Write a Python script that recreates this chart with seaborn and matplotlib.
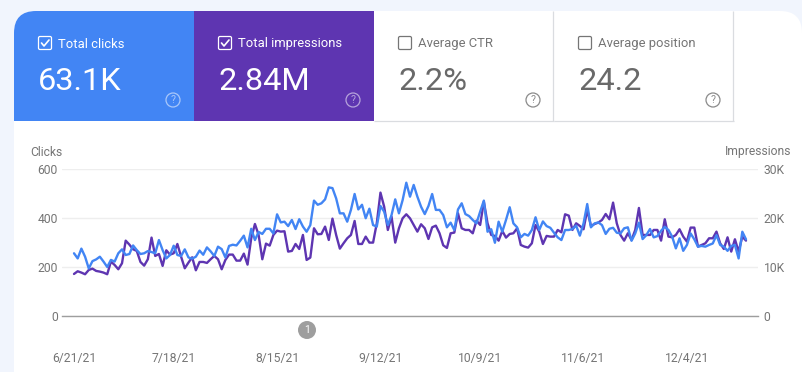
import matplotlib
matplotlib.use("Agg")
import matplotlib.pyplot as plt
from matplotlib.patches import FancyBboxPatch, Rectangle, Circle
import pandas as pd
import seaborn as sns

start_date = "2021-06-21"
clicks = [256,235,275,242,194,224,231,242,222,200,229,222,256,272,249,253,288,269,253,256,265,261,256,310,269,235,249,287,249,245,272,239,234,242,267,250,280,264,245,283,273,239,286,291,288,307,328,280,356,310,343,335,356,356,337,415,382,385,367,392,355,395,
          365,344,371,471,454,460,476,525,522,480,419,419,385,433,498,435,454,399,438,371,365,449,426,371,412,476,419,473,544,487,535,487,446,416,449,498,433,433,412,362,381,351,435,460,416,408,392,378,426,471,344,354,299,385,344,392,444,378,362,321,335,328,
          351,403,351,386,367,360,340,321,310,351,351,355,369,328,378,457,362,378,382,371,335,356,360,340,337,358,362,307,337,381,314,330,355,321,326,348,364,351,324,276,317,266,290,337,313,283,286,283,290,296,330,290,283,266,286,290,235,344,313]
impressions = [8580,9130,8860,8520,9400,9670,9200,9060,8860,8520,11100,10420,9540,10760,15380,14570,13620,13280,11030,10280,11580,16000,12260,12660,10220,13410,12530,12800,14700,12120,9740,10900,11980,9330,11030,11030,10830,11580,12260,11580,9540,11440,12530,12530,11300,11300,12730,10490,15860,18780,16540,11580,14770,14360,16540,17420,17220,17290,13140,13280,14700,13680,
               16540,11440,11920,17900,16680,16740,18240,15520,19870,16540,13750,14840,15860,16540,19400,14700,14700,16200,14980,14980,18920,25180,22320,17560,20280,14980,17900,19940,20760,19940,18580,17220,18720,17900,15720,18100,18440,16880,14430,13890,16880,17020,20960,17900,17560,17560,16880,19460,18580,23340,18920,16540,16340,15380,17360,16000,16740,16880,17900,14500,14160,13960,
               14840,18580,17220,14700,16340,16200,16200,17560,17080,20760,20480,17560,18920,18380,17700,21640,18380,18780,19060,19600,20820,19740,23140,18920,16540,15380,16880,15520,17560,22050,16540,16540,16540,17560,17560,15380,19740,16200,16060,16540,17700,16200,15180,18040,18040,14160,14500,14840,15860,15860,17220,14840,13680,16060,13140,15660,13140,16200,15380]
tick_dates = ["2021-06-21","2021-07-18","2021-08-15","2021-09-12","2021-10-09","2021-11-06","2021-12-04"]
tick_labels = ["6/21/21","7/18/21","8/15/21","9/12/21","10/9/21","11/6/21","12/4/21"]
left_ticks = [0,200,400,600]
left_labels = ["0","200","400","600"]
right_ticks = [0,10000,20000,30000]
right_labels = ["0","10K","20K","30K"]
tiles = [("Total clicks","63.1K"),("Total impressions","2.84M"),("Average CTR","2.2%"),("Average position","24.2")]

BLUE="#4285f4"; PURPLE="#5e35b1"; GREY="#757575"; BG="#f1f5fd"; RULE="#dadce0"

sns.set_theme(style="white")
plt.rcParams['font.family'] = ['Roboto','DejaVu Sans']
W,H=802,380
fig=plt.figure(figsize=(W/100,H/100),dpi=100,facecolor="white")

# page furniture in pixel coordinates
ui=fig.add_axes([0,0,1,1]); ui.set_xlim(0,W); ui.set_ylim(H,0); ui.axis("off")
ui.add_patch(Rectangle((0,0),W,372,fc=BG,ec="none",zorder=0))
card=FancyBboxPatch((14,11),788,420,boxstyle="round,pad=0,rounding_size=22",fc="white",ec="none",zorder=1)
ui.add_patch(card)
ui.add_patch(Rectangle((0,372),W,8,fc="white",ec="none",zorder=1))
tile_w=180
for i,(name,val) in enumerate(tiles):
    x0=14+i*tile_w
    active=i<2
    if active:
        r=Rectangle((x0,11),tile_w,110,fc=[BLUE,PURPLE][i],ec="none",zorder=2)
        ui.add_patch(r); r.set_clip_path(card)
    else:
        ui.plot([x0+tile_w-1]*2,[11,121],color=RULE,lw=0.9,zorder=2,solid_capstyle="butt")
        ui.plot([x0,x0+tile_w],[120.5,120.5],color=RULE,lw=0.9,zorder=2,solid_capstyle="butt")
    fg="white" if active else GREY
    ui.add_patch(FancyBboxPatch((x0+24.5,36.5),13,13,boxstyle="round,pad=0,rounding_size=1.5",fc="none",ec=fg,lw=0.9,zorder=3))
    if active:
        ui.plot([x0+27.5,x0+30,x0+35],[43,46,40],color="white",lw=1.2,zorder=3)
    ui.text(x0+44,47.5,name,color=fg,fontsize=9.4,va="baseline",ha="left",zorder=4)
    ui.text(x0+24,89.5,val,color="white" if active else "#696969",fontsize=23.4,va="baseline",ha="left",zorder=4)
    ic="#ffffff" if active else "#8a8a8a"
    ui.add_patch(Circle((x0+159,100),7,fc="none",ec=ic,lw=0.9,alpha=0.55 if active else 1,zorder=3))
    ui.text(x0+159,100.3,"?",color=ic,alpha=0.55 if active else 1,fontsize=7.5,ha="center",va="center",zorder=4)

ui.text(30,155.5,"Clicks",color=GREY,fontsize=8.7,ha="left",va="baseline",zorder=4)
ui.text(791,155.5,"Impressions",color=GREY,fontsize=8.7,ha="right",va="baseline",zorder=4)
ui.add_patch(Circle((307,330),9,fc="#9e9e9e",ec="none",zorder=4))
ui.text(307,330.3,"1",color="white",fontsize=7.5,ha="center",va="center",zorder=5)

# chart
dates=pd.date_range(start_date,periods=len(clicks),freq="D")
ax_r=fig.add_axes([62/W,1-316/H,696/W,147/H],facecolor="none")
ax_l=ax_r.twinx()
ax_r.set_zorder(3); ax_l.set_zorder(4)
sns.lineplot(x=dates,y=impressions,ax=ax_r,color=PURPLE,lw=1.7,errorbar=None)
sns.lineplot(x=dates,y=clicks,ax=ax_l,color=BLUE,lw=1.7,errorbar=None)

px_per_day=672/(len(clicks)-1)
xmin=dates[0]-pd.Timedelta(days=12/px_per_day)
xmax=dates[-1]+pd.Timedelta(days=12/px_per_day)
ax_r.set_xlim(xmin,xmax)
ax_r.set_ylim(0,30000); ax_l.set_ylim(0,600)

# left scale shows clicks, right scale shows impressions
ax_r.set_yticks(right_ticks); ax_r.yaxis.tick_right()
ax_r.set_yticklabels(right_labels)
ax_l.set_yticks(left_ticks); ax_l.yaxis.tick_left()
ax_l.set_yticklabels(left_labels)
ax_r.set_xticks(pd.to_datetime(tick_dates)); ax_r.set_xticklabels(tick_labels)
ax_r.set_xlabel(""); ax_r.set_ylabel(""); ax_l.set_ylabel(""); ax_l.set_xlabel("")
ax_r.tick_params(axis="x",length=0,pad=26,labelcolor=GREY,labelsize=8.7,bottom=True,labelbottom=True)
ax_r.tick_params(axis="y",length=0,pad=4,labelcolor=GREY,labelsize=8.7,labelright=True,labelleft=False)
ax_l.tick_params(axis="y",length=0,pad=3,labelcolor=GREY,labelsize=8.7,labelleft=True,labelright=False)
ax_l.tick_params(axis="x",length=0,labelbottom=False,bottom=False)
ax_r.grid(axis="y",color="#eeeeee",lw=1.0); ax_r.set_axisbelow(True)
ax_l.grid(False)
for a in (ax_r,ax_l):
    for s in a.spines.values(): s.set_visible(False)
ax_r.spines["bottom"].set_visible(True); ax_r.spines["bottom"].set_color("#9e9e9e"); ax_r.spines["bottom"].set_linewidth(1.0)
fig.savefig("out.png",dpi=100,facecolor="white")
